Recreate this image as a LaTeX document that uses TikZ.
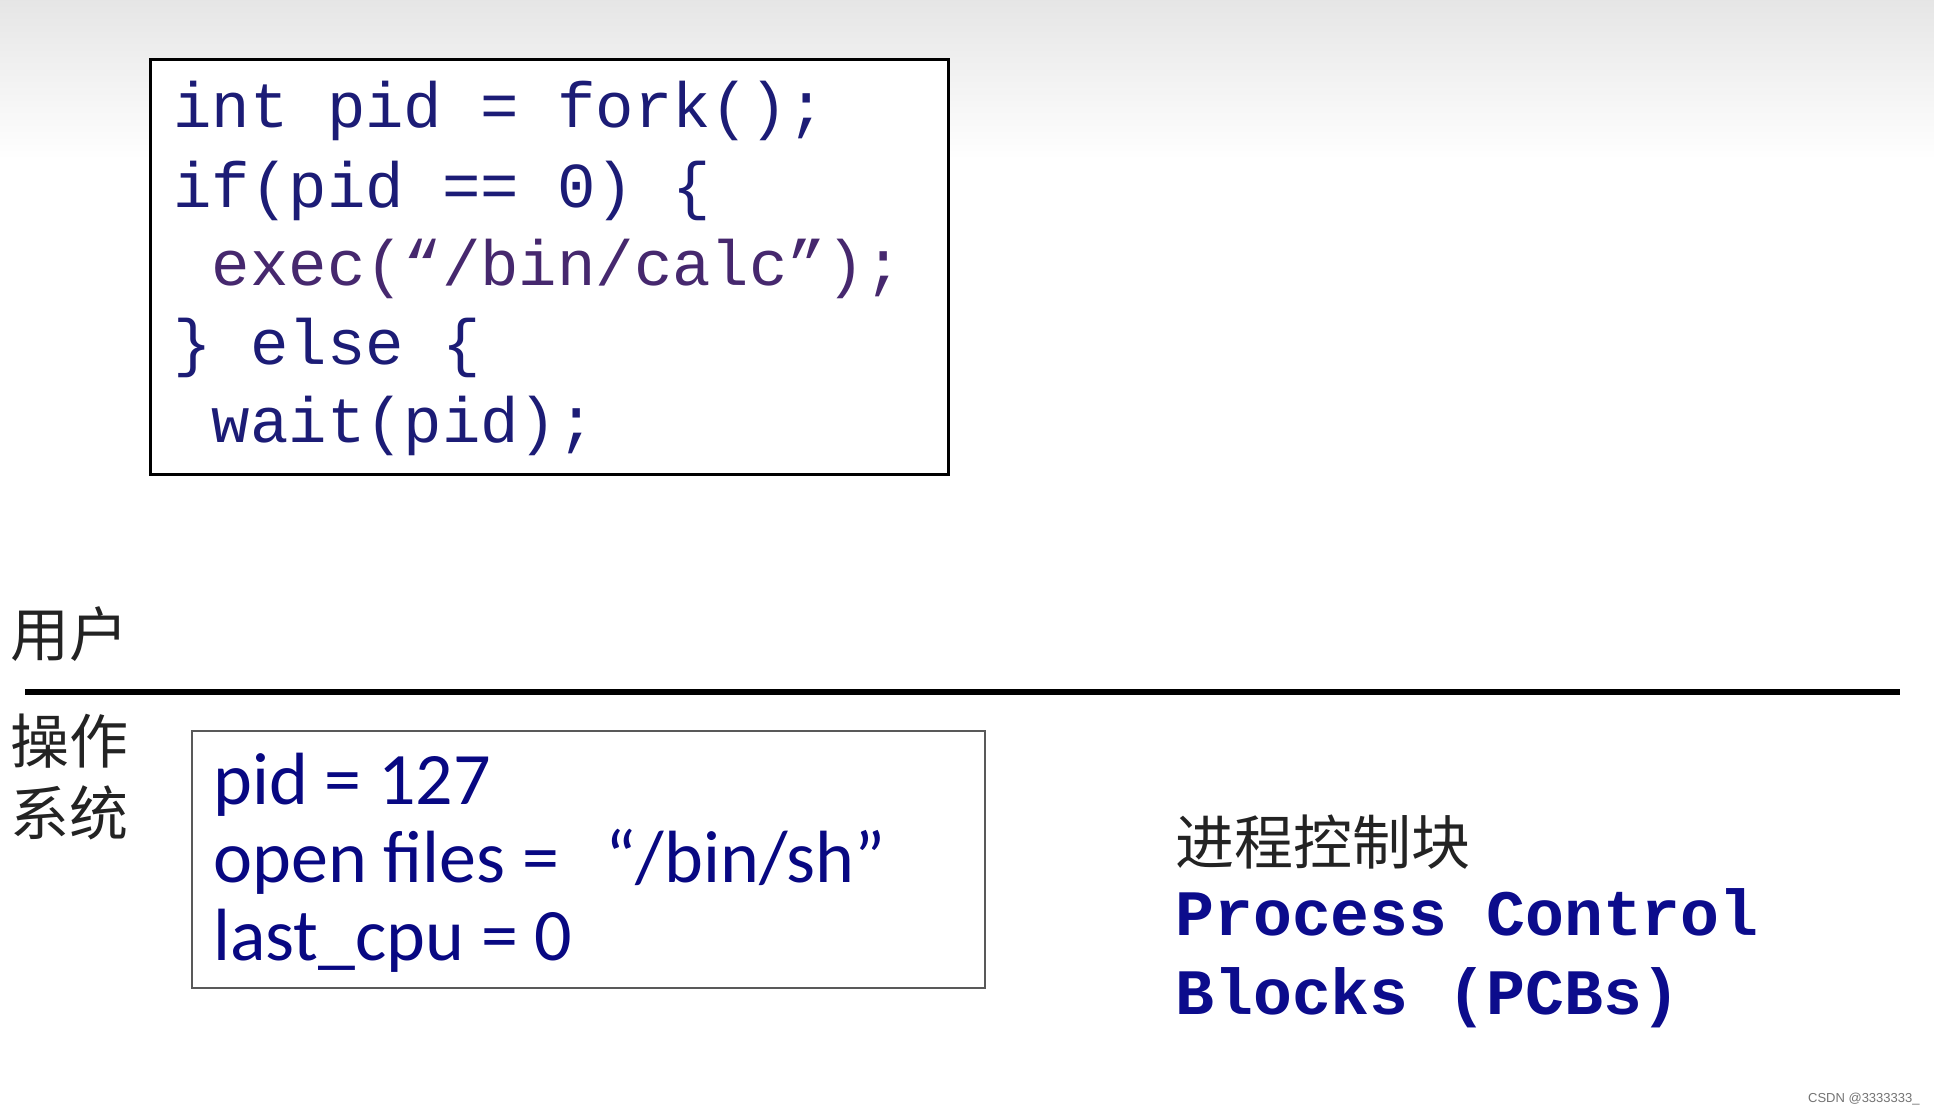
\documentclass[tikz,border=0pt]{standalone}
\usepackage{fontspec}
\setmainfont{Carlito}
\newfontfamily\codefont{Liberation Mono}
\newfontfamily\cjkfont{Noto Sans CJK SC}
\newfontfamily\wmfont{Liberation Sans}
\definecolor{codeblue}{RGB}{28,28,118}
\definecolor{execpurple}{RGB}{70,40,110}
\definecolor{pcbblue}{RGB}{12,12,140}
\definecolor{txtblue}{RGB}{8,8,130}
\definecolor{cjkgray}{RGB}{35,35,35}
\tikzset{
  codeline/.style={anchor=base west,inner sep=0pt,text=codeblue,font=\codefont\fontsize{32}{38}\selectfont},
  pcbline/.style={anchor=base west,inner sep=0pt,text=txtblue,font=\fontsize{37}{44}\selectfont},
  cjklabel/.style={anchor=base west,inner sep=0pt,text=cjkgray,font=\cjkfont\fontsize{29.5}{34}\selectfont},
  eng/.style={anchor=base west,inner sep=0pt,text=pcbblue,font=\codefont\bfseries\fontsize{32.4}{38}\selectfont},
}
\begin{document}
\begin{tikzpicture}[x=0.5pt,y=-0.5pt]
\useasboundingbox (0,0) rectangle (1934,1114);
\fill[white] (0,0) rectangle (1934,1114);
\shade[top color=black!10,bottom color=white] (0,0) rectangle (1934,160);
% code box
\draw[line width=1.5pt,fill=white] (150,59) rectangle (948,474);
\node[codeline] (c1) at (173,127) {int pid = fork();};
\node[codeline] (c2) at (173,207) {if(pid == 0) \{};
\node[codeline,text=execpurple] (c3) at (173,285) {\hspace{0.6em}exec(“/bin/calc”);};
\node[codeline] (c4) at (173,364) {\} else \{};
\node[codeline] (c5) at (173,442) {\hspace{0.6em}wait(pid);};
% user / os separator
\node[cjklabel] (user) at (10,656) {用户};
\draw[line width=3pt] (25,692) -- (1900,692);
\node[cjklabel] (os1) at (10,763) {操作};
\node[cjklabel] (os2) at (10,835) {系统};
% PCB box
\draw[line width=1pt,draw=black!65] (192,731) rectangle (985,988);
\node[pcbline] (p1) at (213,804) {pid = 127};
\node[pcbline] (p2) at (213,882) {open files =\hspace{0.62em}“/bin/sh”};
\node[pcbline] (p3) at (213,960) {last\_cpu = 0};
% right labels
\node[cjklabel] (pcbcn) at (1175,864) {进程控制块};
\node[eng] (pcb1) at (1175,935) {Process Control};
\node[eng] (pcb2) at (1175,1014) {Blocks (PCBs)};
\node[anchor=base east,inner sep=0pt,text=black!55,font=\wmfont\fontsize{6.5}{8}\selectfont] (wm) at (1920,1102) {CSDN @3333333\_};
\end{tikzpicture}
\end{document}
